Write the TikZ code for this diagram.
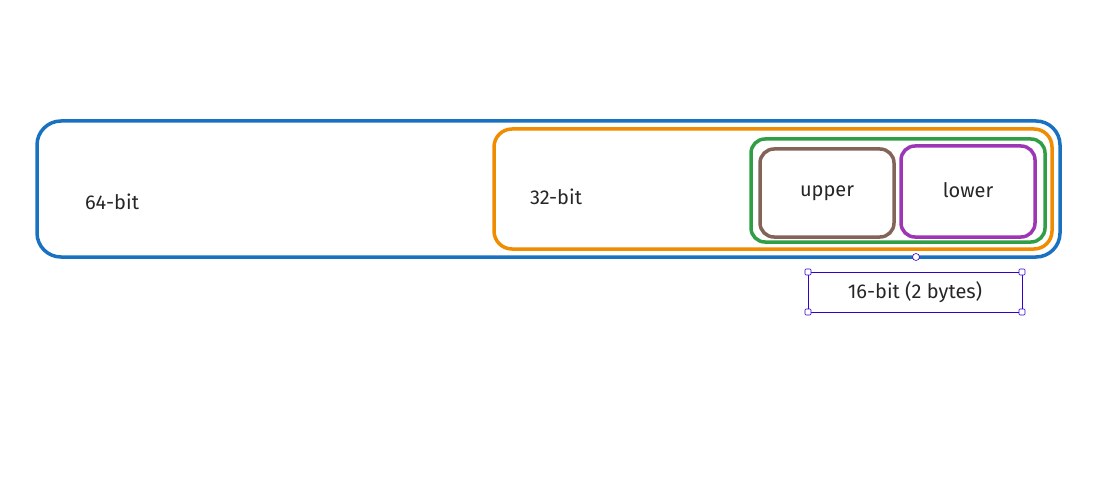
\documentclass[tikz,border=0pt]{standalone}
\usepackage{fontspec}
\setmainfont{Fira Sans}
\begin{document}
\begin{tikzpicture}[x=1pt,y=-1pt,
  box/.style={draw, line width=3.5pt, rounded corners=18pt},
  lbl/.style={font=\fontsize{20}{24}\selectfont, text=black!85},
  sel/.style={draw=blue!60!violet, line width=0.6pt},
  handle/.style={draw=blue!60!violet, fill=white, line width=0.6pt, minimum size=6pt, inner sep=0pt}]
\useasboundingbox (0,0) rectangle (1115,481);
\definecolor{cblue}{HTML}{1971C2}
\definecolor{corange}{HTML}{F08C00}
\definecolor{cgreen}{HTML}{2F9E44}
\definecolor{cbrown}{HTML}{846358}
\definecolor{cpurple}{HTML}{9C36B5}
\draw[box, draw=cblue, rounded corners=24pt] (37,121) rectangle (1060,257);
\draw[box, draw=corange] (494,129) rectangle (1052,249);
\draw[box, draw=cgreen, rounded corners=14pt] (751,139) rectangle (1045,242);
\draw[box, draw=cbrown, rounded corners=14pt] (760,149) rectangle (894,237);
\draw[box, draw=cpurple, rounded corners=14pt] (901,146) rectangle (1035,237);
\node[lbl] (b64) at (112,202) {64-bit};
\node[lbl] (b32) at (556,197) {32-bit};
\node[lbl] (up) at (827,193) {upper};
\node[lbl] (lo) at (968,190) {lower};
\draw[sel] (808,272) rectangle (1022,312);
\node[lbl] (b16) at (915,292) {16-bit (2 bytes)};
\foreach \p/\n in {{(808,272)}/h1,{(1022,272)}/h2,{(808,312)}/h3,{(1022,312)}/h4}
  \node[handle, rounded corners=1pt] (\n) at \p {};
\node[handle, circle, minimum size=7pt] (rot) at (916,257) {};
\end{tikzpicture}
\end{document}
